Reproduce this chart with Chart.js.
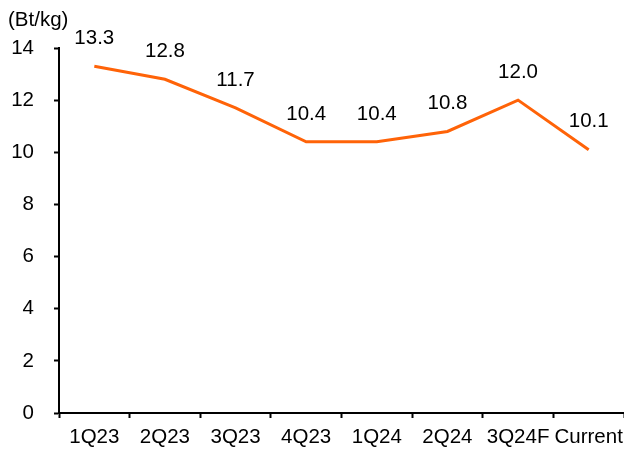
<!DOCTYPE html>
<html>
<head>
<meta charset="utf-8">
<script src="https://cdn.jsdelivr.net/npm/chart.js@4"></script>
<style>
  html, body { margin: 0; padding: 0; background: #fff; }
  #wrap { width: 624px; height: 450px; }
</style>
</head>
<body>
<div id="wrap"><canvas id="priceChart" width="624" height="450"></canvas></div>
<script>
const categories = ['1Q23', '2Q23', '3Q23', '4Q23', '1Q24', '2Q24', '3Q24F', 'Current'];
const prices = [13.3, 12.8, 11.7, 10.4, 10.4, 10.8, 12.0, 10.1];
const unitLabel = '(Bt/kg)';

const FONT = { family: '"Liberation Sans", Arial, sans-serif', size: 20.5 };

// draws the value above each point, plus the unit at top left
const labelPlugin = {
    id: 'valueLabels',
    afterDatasetsDraw(chart) {
        const ctx = chart.ctx;
        const meta = chart.getDatasetMeta(0);
        ctx.save();
        ctx.fillStyle = '#000';
        ctx.font = FONT.size + 'px ' + FONT.family;
        ctx.textAlign = 'center';
        ctx.textBaseline = 'middle';
        meta.data.forEach((pt, i) => {
            ctx.fillText(prices[i].toFixed(1), pt.x, pt.y - 28);
        });
        ctx.textAlign = 'left';
        ctx.fillText(unitLabel, 8, 20);
        ctx.restore();
    }
};

new Chart(document.getElementById('priceChart'), {
    type: 'line',
    data: {
        labels: categories,
        datasets: [{
            data: prices,
            borderColor: '#FF6308',
            borderWidth: 3,
            pointRadius: 0,
            tension: 0,
            fill: false
        }]
    },
    options: {
        responsive: false,
        animation: false,
        layout: { padding: { top: 48, left: 0, right: 0, bottom: 0 } },
        plugins: {
            legend: { display: false },
            tooltip: { enabled: false }
        },
        scales: {
            x: {
                offset: true,
                grid: {
                    offset: true,
                    drawOnChartArea: false,
                    drawTicks: true,
                    tickLength: 5,
                    tickWidth: 2,
                    tickColor: '#000'
                },
                border: { color: '#000', width: 2 },
                ticks: { color: '#000', font: FONT, padding: 7, maxRotation: 0, autoSkip: false },
                afterFit(scale) {
                    scale.height = 37;
                    scale.paddingLeft = 0;
                    scale.paddingRight = 0;
                }
            },
            y: {
                min: 0,
                max: 14,
                grid: {
                    drawOnChartArea: false,
                    drawTicks: true,
                    tickLength: 5,
                    tickWidth: 2,
                    tickColor: '#000'
                },
                border: { color: '#000', width: 2 },
                ticks: { stepSize: 2, color: '#000', font: FONT, padding: 20 },
                afterFit(scale) { scale.width = 59; }
            }
        }
    },
    plugins: [labelPlugin]
});
</script>
</body>
</html>
